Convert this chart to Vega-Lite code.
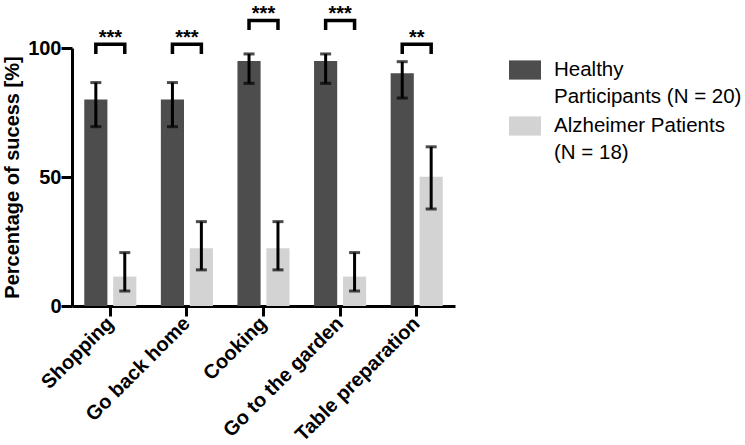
{
  "$schema": "https://vega.github.io/schema/vega-lite/v6.json",
  "width": 383,
  "height": 258,
  "autosize": {"type": "none"},
  "padding": {"left": 72, "top": 48, "right": 290, "bottom": 139},
  "background": "white",
  "config": {
    "view": {"stroke": null},
    "font": "Liberation Sans",
    "axis": {"domainColor": "black", "domainWidth": 3, "tickColor": "black", "tickWidth": 3, "labelColor": "black", "titleColor": "black", "grid": false, "labelFont": "Liberation Sans", "titleFont": "Liberation Sans", "labelFontWeight": "bold", "titleFontWeight": "bold", "labelFontSize": 20, "titleFontSize": 20}
  },
  "datasets": {
    "bars": [
      {"task": "Shopping", "group": "Healthy Participants (N = 20)", "value": 80, "lo": 69.5, "hi": 86.6},
      {"task": "Shopping", "group": "Alzheimer Patients (N = 18)", "value": 11.4, "lo": 5.8, "hi": 20.7},
      {"task": "Go back home", "group": "Healthy Participants (N = 20)", "value": 80, "lo": 69.5, "hi": 86.6},
      {"task": "Go back home", "group": "Alzheimer Patients (N = 18)", "value": 22.4, "lo": 14, "hi": 32.7},
      {"task": "Cooking", "group": "Healthy Participants (N = 20)", "value": 95, "lo": 86.3, "hi": 97.7},
      {"task": "Cooking", "group": "Alzheimer Patients (N = 18)", "value": 22.4, "lo": 14, "hi": 32.7},
      {"task": "Go to the garden", "group": "Healthy Participants (N = 20)", "value": 95, "lo": 86.3, "hi": 97.7},
      {"task": "Go to the garden", "group": "Alzheimer Patients (N = 18)", "value": 11.4, "lo": 5.8, "hi": 20.7},
      {"task": "Table preparation", "group": "Healthy Participants (N = 20)", "value": 90.2, "lo": 80.6, "hi": 94.7},
      {"task": "Table preparation", "group": "Alzheimer Patients (N = 18)", "value": 50.1, "lo": 37.6, "hi": 61.7}
    ],
    "brackets": [
      {"task": "Shopping", "group": "Healthy Participants (N = 20)", "y": 98.4, "ord": 1},
      {"task": "Shopping", "group": "Healthy Participants (N = 20)", "y": 101.5, "ord": 2},
      {"task": "Shopping", "group": "Alzheimer Patients (N = 18)", "y": 101.5, "ord": 3},
      {"task": "Shopping", "group": "Alzheimer Patients (N = 18)", "y": 98.4, "ord": 4},
      {"task": "Go back home", "group": "Healthy Participants (N = 20)", "y": 98.4, "ord": 1},
      {"task": "Go back home", "group": "Healthy Participants (N = 20)", "y": 101.5, "ord": 2},
      {"task": "Go back home", "group": "Alzheimer Patients (N = 18)", "y": 101.5, "ord": 3},
      {"task": "Go back home", "group": "Alzheimer Patients (N = 18)", "y": 98.4, "ord": 4},
      {"task": "Cooking", "group": "Healthy Participants (N = 20)", "y": 107.7, "ord": 1},
      {"task": "Cooking", "group": "Healthy Participants (N = 20)", "y": 110.7, "ord": 2},
      {"task": "Cooking", "group": "Alzheimer Patients (N = 18)", "y": 110.7, "ord": 3},
      {"task": "Cooking", "group": "Alzheimer Patients (N = 18)", "y": 107.7, "ord": 4},
      {"task": "Go to the garden", "group": "Healthy Participants (N = 20)", "y": 107.7, "ord": 1},
      {"task": "Go to the garden", "group": "Healthy Participants (N = 20)", "y": 110.7, "ord": 2},
      {"task": "Go to the garden", "group": "Alzheimer Patients (N = 18)", "y": 110.7, "ord": 3},
      {"task": "Go to the garden", "group": "Alzheimer Patients (N = 18)", "y": 107.7, "ord": 4},
      {"task": "Table preparation", "group": "Healthy Participants (N = 20)", "y": 98.4, "ord": 1},
      {"task": "Table preparation", "group": "Healthy Participants (N = 20)", "y": 101.5, "ord": 2},
      {"task": "Table preparation", "group": "Alzheimer Patients (N = 18)", "y": 101.5, "ord": 3},
      {"task": "Table preparation", "group": "Alzheimer Patients (N = 18)", "y": 98.4, "ord": 4}
    ],
    "stars": [
      {"task": "Shopping", "label": "***", "y": 101.5},
      {"task": "Go back home", "label": "***", "y": 101.5},
      {"task": "Cooking", "label": "***", "y": 110.7},
      {"task": "Go to the garden", "label": "***", "y": 110.7},
      {"task": "Table preparation", "label": "**", "y": 101.5}
    ]
  },
  "encoding": {
    "x": {
      "field": "task", "type": "nominal", "sort": null,
      "scale": {"domain": ["Shopping", "Go back home", "Cooking", "Go to the garden", "Table preparation"], "paddingInner": 0.32, "paddingOuter": 0.16},
      "axis": {"title": null, "labelAngle": -45, "labelAlign": "right", "labelBaseline": "middle", "tickSize": 10, "labelPadding": 4, "labelLimit": 300, "labelFontSize": 20}
    }
  },
  "layer": [
    {
      "data": {"name": "bars"},
      "mark": {"type": "bar"},
      "encoding": {
        "xOffset": {"field": "group", "type": "nominal", "scale": {"domain": ["Healthy Participants (N = 20)", "Alzheimer Patients (N = 18)"], "paddingInner": 0.2, "paddingOuter": 0}},
        "y": {"field": "value", "type": "quantitative", "scale": {"domain": [0, 100], "nice": false}, "axis": {"values": [0, 50, 100], "title": "Percentage of sucess [%]", "tickSize": 11, "labelPadding": 0, "titlePadding": 5}},
        "color": {
          "field": "group", "type": "nominal",
          "scale": {"domain": ["Healthy Participants (N = 20)", "Alzheimer Patients (N = 18)"], "range": ["#4d4d4d", "#d3d3d3"]},
          "legend": {
            "title": null, "orient": "none", "legendX": 437, "legendY": 6,
            "symbolType": "M-1,-0.6H1V0.6H-1Z", "symbolSize": 1024, "symbolStrokeWidth": 0,
            "labelFontSize": 20.5, "labelFont": "Liberation Sans", "labelColor": "black", "labelLimit": 300, "labelOffset": 13, "rowPadding": 2,
            "labelExpr": "datum.value == 'Healthy Participants (N = 20)' ? ['Healthy', 'Participants (N = 20)'] : ['Alzheimer Patients', '(N = 18)']",
            "encode": {"labels": {"update": {"lineHeight": {"value": 27}}}}
          }
        }
      }
    },
    {
      "data": {"name": "bars"},
      "mark": {"type": "rule", "color": "black", "strokeWidth": 3},
      "encoding": {
        "xOffset": {"field": "group", "type": "nominal"},
        "y": {"field": "lo", "type": "quantitative"},
        "y2": {"field": "hi"}
      }
    },
    {
      "data": {"name": "bars"},
      "mark": {"type": "tick", "orient": "horizontal", "color": "black", "size": 11, "thickness": 3},
      "encoding": {
        "xOffset": {"field": "group", "type": "nominal"},
        "y": {"field": "lo", "type": "quantitative"}
      }
    },
    {
      "data": {"name": "bars"},
      "mark": {"type": "tick", "orient": "horizontal", "color": "black", "size": 11, "thickness": 3},
      "encoding": {
        "xOffset": {"field": "group", "type": "nominal"},
        "y": {"field": "hi", "type": "quantitative"}
      }
    },
    {
      "data": {"name": "brackets"},
      "mark": {"type": "line", "color": "black", "strokeWidth": 3.5, "strokeCap": "square", "strokeJoin": "miter"},
      "encoding": {
        "xOffset": {"field": "group", "type": "nominal"},
        "y": {"field": "y", "type": "quantitative"},
        "detail": {"field": "task"},
        "order": {"field": "ord", "type": "quantitative"}
      }
    },
    {
      "data": {"name": "stars"},
      "mark": {"type": "text", "fontSize": 20, "fontWeight": "bold", "font": "Liberation Sans", "baseline": "alphabetic", "dy": 0, "color": "black"},
      "encoding": {
        "y": {"field": "y", "type": "quantitative"},
        "text": {"field": "label"}
      }
    }
  ]
}
